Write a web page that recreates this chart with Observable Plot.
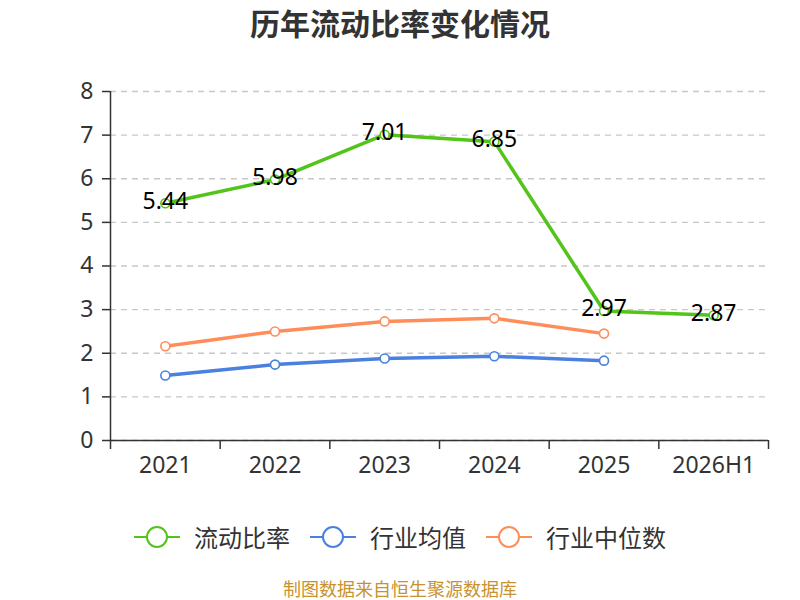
<!DOCTYPE html>
<html><head><meta charset="utf-8">
<script src="https://cdn.jsdelivr.net/npm/d3@7"></script>
<script src="https://cdn.jsdelivr.net/npm/@observablehq/plot@0.6"></script>
<style>
body{margin:0;background:#fff;font-family:"Noto Sans CJK SC","Noto Sans",sans-serif;}
#wrap{position:relative;width:800px;height:600px;overflow:hidden;}
#title{position:absolute;top:2px;left:0;width:800px;text-align:center;font-size:30px;line-height:40px;font-weight:bold;color:#333;}
#chart{position:absolute;top:50px;left:0;}
#legend{position:absolute;top:519px;left:0;width:800px;display:flex;justify-content:center;gap:20px;font-size:24px;line-height:36px;color:#333;}
.item{display:flex;align-items:center;gap:14px;}
#caption{position:absolute;top:576px;left:0;width:800px;text-align:center;font-size:18px;line-height:24px;color:#c8922e;}
</style></head>
<body>
<div id="wrap">
<div id="title">历年流动比率变化情况</div>
<div id="chart"></div>
<div id="legend"></div>
<div id="caption">制图数据来自恒生聚源数据库</div>
</div>
<script>
const categories = ["2021","2022","2023","2024","2025","2026H1"];
const ratio = [5.44, 5.98, 7.01, 6.85, 2.97, 2.87];
const industryMean = [1.49, 1.74, 1.88, 1.93, 1.83];
const industryMedian = [2.16, 2.50, 2.73, 2.80, 2.45];
const yTicks = [0,1,2,3,4,5,6,7,8];
const seriesNames = ["流动比率","行业均值","行业中位数"];
const colors = ["#52c41a","#4a80e0","#ff8d59"];

const rows = (vals, s) => vals.map((v,i)=>({cat:categories[i], v, s}));
const green = rows(ratio, seriesNames[0]);
const blue = rows(industryMean, seriesNames[1]);
const orange = rows(industryMedian, seriesNames[2]);

const W = 800, H = 440, mL = 110, mR = 32;
const step = (W - mL - mR) / categories.length;
const numFont = '"Noto Sans","Noto Sans CJK SC",sans-serif';

const plot = Plot.plot({
  width: W, height: H,
  marginTop: 41, marginBottom: 50, marginLeft: mL, marginRight: mR,
  style: {fontFamily: numFont, background: "#fff"},
  x: {type: "point", domain: categories, padding: 0.5, round: false},
  y: {domain: [0, 8]},
  marks: [
    Plot.gridY(yTicks, {stroke: "#c8c8c8", strokeOpacity: 1, strokeDasharray: "6,5", strokeWidth: 1.3}),
    Plot.axisY(yTicks, {tickSize: 8, tickPadding: 9, fontSize: 23, fill: "#333", stroke: "#333", strokeWidth: 1.5, label: null}),
    Plot.axisX({tickSize: 0, tickPadding: 16, fontSize: 23, fill: "#333", label: null}),
    Plot.axisX(categories, {tickSize: 9, tickFormat: () => "", dx: -step/2, stroke: "#333", strokeWidth: 1.5, label: null}),
    Plot.axisX([categories[categories.length-1]], {tickSize: 9, tickFormat: () => "", dx: step/2, stroke: "#333", strokeWidth: 1.5, label: null}),
    Plot.ruleY([0], {stroke: "#333", strokeWidth: 1.5}),
    Plot.ruleX([categories[0]], {dx: -step/2, y1: 0, y2: 8, stroke: "#333", strokeWidth: 1.5}),
    Plot.line(orange, {x: "cat", y: "v", stroke: colors[2], strokeWidth: 3.5}),
    Plot.line(blue, {x: "cat", y: "v", stroke: colors[1], strokeWidth: 3.5}),
    Plot.line(green, {x: "cat", y: "v", stroke: colors[0], strokeWidth: 3.5}),
    Plot.dot(orange, {x: "cat", y: "v", r: 4.5, fill: "#fff", stroke: colors[2], strokeWidth: 1.6}),
    Plot.dot(blue, {x: "cat", y: "v", r: 4.5, fill: "#fff", stroke: colors[1], strokeWidth: 1.6}),
    Plot.dot(green, {x: "cat", y: "v", r: 4.5, fill: "#fff", stroke: colors[0], strokeWidth: 1.6}),
    Plot.text(green, {x: "cat", y: "v", text: d => d.v.toFixed(2), fontSize: 23, fill: "#000", dy: -2, lineAnchor: "middle"})
  ]
});
document.getElementById("chart").appendChild(plot);

const legend = document.getElementById("legend");
seriesNames.forEach((n,i)=>{
  const it = document.createElement("div");
  it.className = "item";
  it.innerHTML = `<svg width="46" height="26"><line x1="0" y1="13" x2="46" y2="13" stroke="${colors[i]}" stroke-width="2"/><circle cx="23" cy="13" r="10" fill="#fff" stroke="${colors[i]}" stroke-width="2"/></svg><span>${n}</span>`;
  legend.appendChild(it);
});
</script>
</body></html>
